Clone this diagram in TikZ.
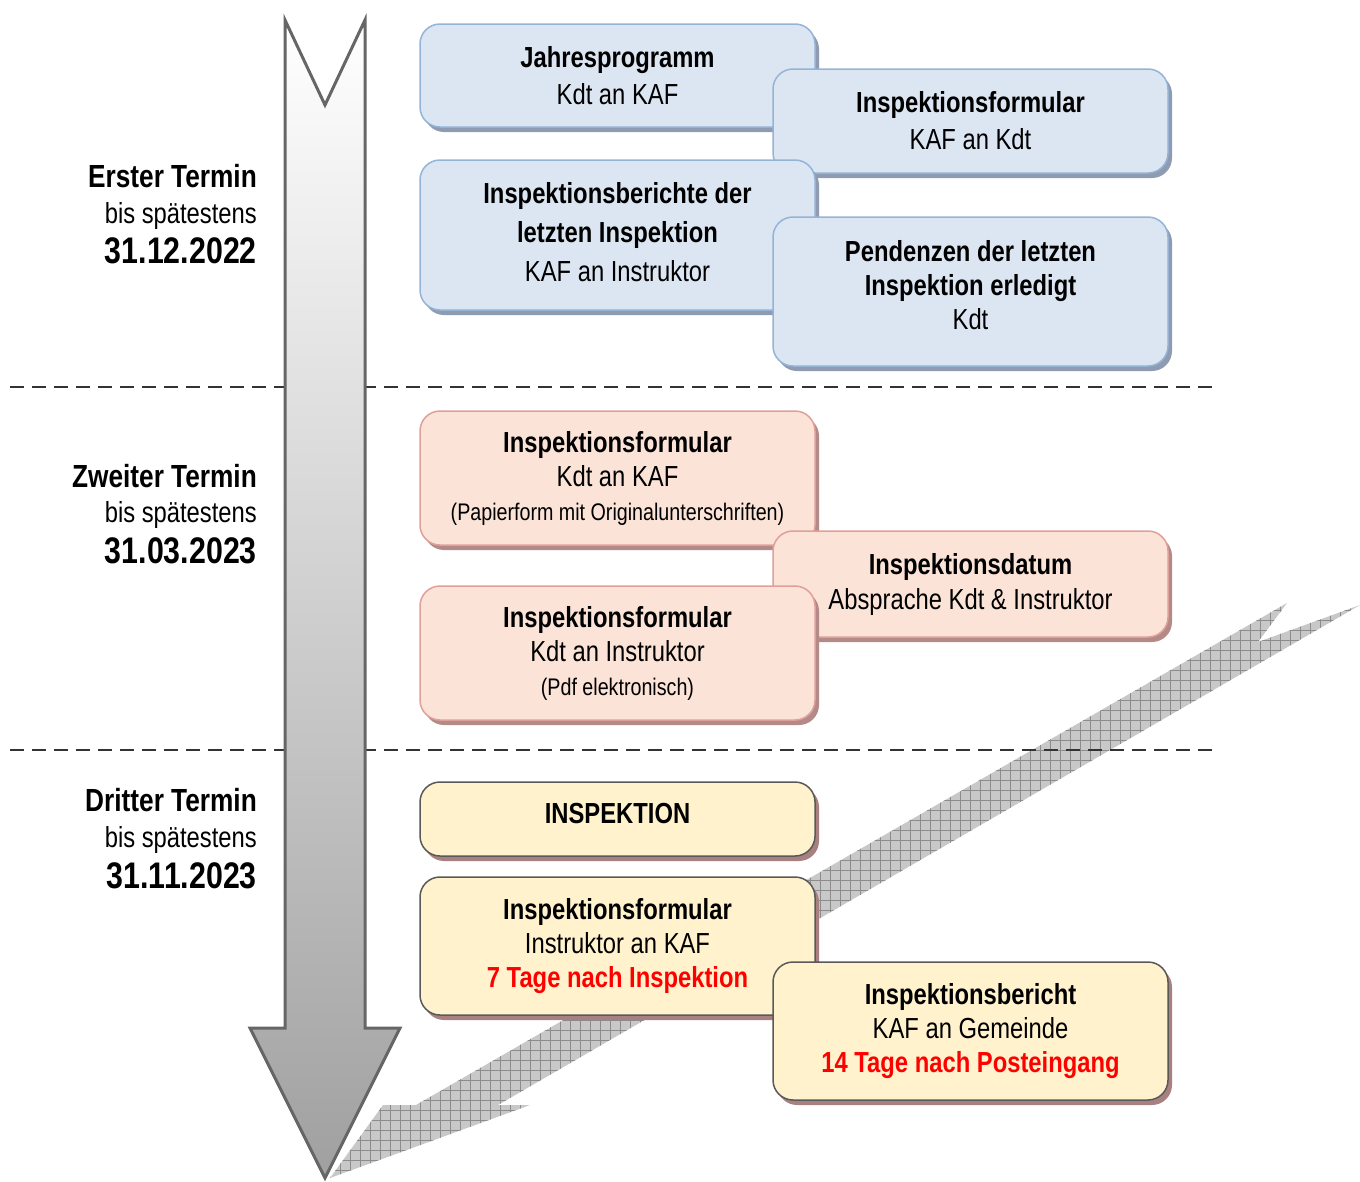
\documentclass[tikz,border=0pt]{standalone}
\usepackage{fontspec}
\setmainfont{Liberation Sans}[FakeStretch=0.82]
\usetikzlibrary{shadows}
\definecolor{bfill}{HTML}{DCE6F2}
\definecolor{bborder}{HTML}{95B3D7}
\definecolor{bshadow}{HTML}{8E9BB0}
\definecolor{pfill}{HTML}{FBE3D7}
\definecolor{pborder}{HTML}{E0A09A}
\definecolor{pshadow}{HTML}{B48A88}
\definecolor{yfill}{HTML}{FFF2CC}
\definecolor{yborder}{HTML}{595959}
\definecolor{yshadow}{HTML}{A88080}
\definecolor{arrline}{HTML}{666666}
\definecolor{arrbot}{HTML}{A0A0A0}
\definecolor{bandfill}{HTML}{C8C8C8}
\definecolor{bandgrid}{HTML}{8C8C8C}
\definecolor{redtxt}{HTML}{FF0000}
\begin{document}
\begin{tikzpicture}[x=1pt,y=-1pt,
  boxbase/.style={rounded corners=20pt, minimum width=395pt, align=center, inner sep=0pt,
    font=\fontsize{29}{35}\selectfont},
  bluebox/.style={boxbase, draw=bborder, fill=bfill, line width=1.5pt,
    drop shadow={shadow xshift=4pt, shadow yshift=-5pt, fill=bshadow, opacity=1}},
  pinkbox/.style={boxbase, draw=pborder, fill=pfill, line width=1.5pt,
    drop shadow={shadow xshift=4pt, shadow yshift=-5pt, fill=pshadow, opacity=1}},
  yelbox/.style={boxbase, draw=yborder, fill=yfill, line width=1.5pt,
    drop shadow={shadow xshift=4pt, shadow yshift=-5pt, fill=yshadow, opacity=1}},
  boxtext/.style={align=center, inner sep=0pt},
  termlbl/.style={anchor=base east, inner sep=0pt, font=\fontsize{32}{38}\selectfont\bfseries},
  bislbl/.style={anchor=base east, inner sep=0pt, font=\fontsize{29}{35}\selectfont},
  datelbl/.style={anchor=base east, inner sep=0pt, font=\fontsize{37}{44}\selectfont\bfseries},
  sepline/.style={draw=black!80, line width=1.5pt, dash pattern=on 14pt off 8pt}]
\useasboundingbox (0,0) rectangle (1360,1181);

% diagonal lightning band
\path[fill=bandfill] (1287,603) -- (1258,642) -- (1360,605) -- (498,1105) -- (530,1105)
  -- (330,1178) -- (383,1105) -- (416,1105) -- cycle;
\begin{scope}
  \clip (1287,603) -- (1258,642) -- (1360,605) -- (498,1105) -- (530,1105)
  -- (330,1178) -- (383,1105) -- (416,1105) -- cycle;
  \draw[bandgrid, line width=0.8pt, step=10pt] (320,590) grid (1370,1190);
\end{scope}

% separator lines
\coordinate (s1a) at (10,387); \coordinate (s1b) at (1212,387);
\coordinate (s2a) at (10,750); \coordinate (s2b) at (1212,750);
\draw[sepline] (s1a) -- (s1b);
\draw[sepline] (s2a) -- (s2b);

% big time arrow
\shade[top color=white, bottom color=arrbot, draw=arrline, line width=3pt, line join=miter]
  (285,20) -- (325,105) -- (365,20) -- (365,1028) -- (400,1028) -- (325,1178)
  -- (250,1028) -- (285,1028) -- cycle;

% left labels
\node[termlbl] (t1) at (257,187) {Erster Termin};
\node[bislbl]  (b1) at (257,223) {bis spätestens};
\node[datelbl] (d1) at (257,263) {31.12.2022};
\node[termlbl] (t2) at (257,487) {Zweiter Termin};
\node[bislbl]  (b2) at (257,522) {bis spätestens};
\node[datelbl] (d2) at (257,563) {31.03.2023};
\node[termlbl] (t3) at (257,811) {Dritter Termin};
\node[bislbl]  (b3) at (257,847) {bis spätestens};
\node[datelbl] (d3) at (257,888) {31.11.2023};

% blue boxes
\node[bluebox, minimum height=103pt, font=\fontsize{29}{37}\selectfont] (jp) at (617.5,75.5)
  {\textbf{Jahresprogramm}\\Kdt an KAF};
\node[bluebox, minimum height=104pt, font=\fontsize{29}{37}\selectfont] (ifk) at (970.5,121)
  {\textbf{Inspektionsformular}\\KAF an Kdt};
\node[bluebox, minimum height=150pt] (ib) at (617.5,235) {};
\node[boxtext, font=\fontsize{29}{39}\selectfont] (ibt) at ([yshift=3pt]ib.center)
  {\textbf{Inspektionsberichte der}\\\textbf{letzten Inspektion}\\KAF an Instruktor};
\node[bluebox, minimum height=149pt] (pd) at (970.5,291.5) {};
\node[boxtext, font=\fontsize{29}{34}\selectfont] (pdt) at ([yshift=6pt]pd.center)
  {\textbf{Pendenzen der letzten}\\\textbf{Inspektion erledigt}\\Kdt};

% pink boxes
\node[pinkbox, minimum height=134pt, font=\fontsize{29}{34}\selectfont] (ikk) at (617.5,478)
  {\textbf{Inspektionsformular}\\Kdt an KAF\\{\fontsize{24}{32}\selectfont(Papierform mit Originalunterschriften)}};
\node[pinkbox, minimum height=106pt, font=\fontsize{29}{35}\selectfont] (idt) at (970.5,584)
  {\textbf{Inspektionsdatum}\\Absprache Kdt \& Instruktor};
\node[pinkbox, minimum height=134pt, font=\fontsize{29}{34}\selectfont] (iki) at (617.5,653)
  {\textbf{Inspektionsformular}\\Kdt an Instruktor\\{\fontsize{24}{32}\selectfont(Pdf elektronisch)}};

% yellow boxes
\node[yelbox, minimum height=74pt] (insp) at (617.5,819) {};
\node[boxtext, font=\fontsize{29}{35}\selectfont] (inspt) at ([yshift=5pt]insp.center)
  {\textbf{INSPEKTION}};
\node[yelbox, minimum height=138pt, font=\fontsize{29}{34}\selectfont] (iik) at (617.5,946)
  {\textbf{Inspektionsformular}\\Instruktor an KAF\\\textcolor{redtxt}{\textbf{7 Tage nach Inspektion}}};
\node[yelbox, minimum height=138pt, font=\fontsize{29}{34}\selectfont] (ibg) at (970.5,1031)
  {\textbf{Inspektionsbericht}\\KAF an Gemeinde\\\textcolor{redtxt}{\textbf{14 Tage nach Posteingang}}};
\end{tikzpicture}
\end{document}
